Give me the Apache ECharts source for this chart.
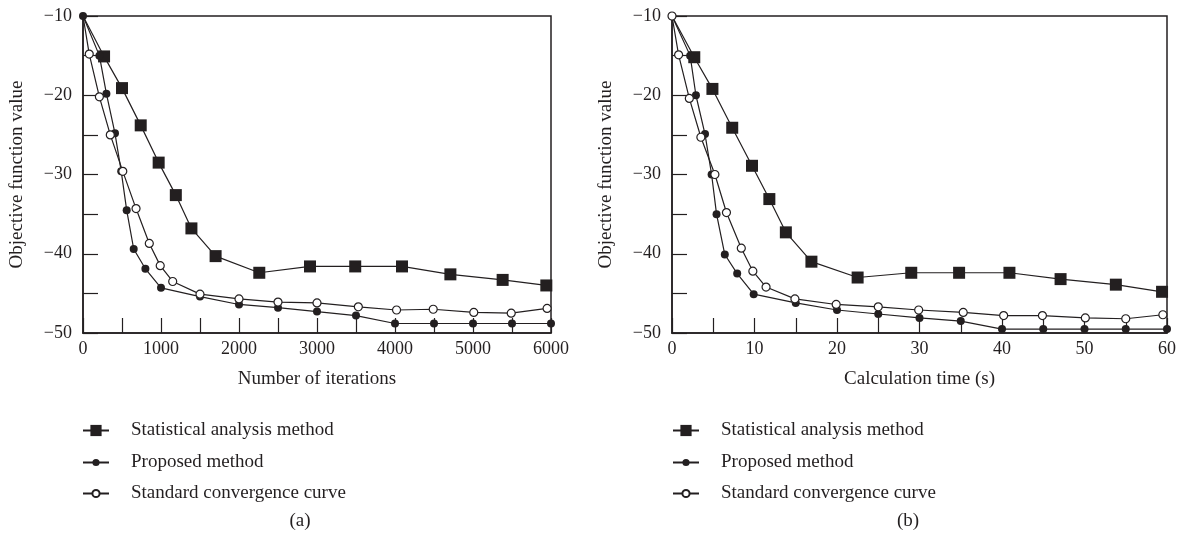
<!DOCTYPE html>
<html>
<head>
<meta charset="utf-8">
<script src="https://cdn.jsdelivr.net/npm/echarts@6/dist/echarts.min.js"></script>
<style>
  html, body { margin: 0; padding: 0; background: #fff; }
  #chart { width: 1184px; height: 539px; }
</style>
</head>
<body>
<div id="chart"></div>
<script>
  // (a) number of iterations
  const iterStatX = [0, 270, 500, 740, 970, 1190, 1390, 1700, 2260, 2910, 3490, 4090, 4710, 5380, 5940];
  const iterStatY = [-10, -15.1, -19.1, -23.8, -28.5, -32.6, -36.8, -40.3, -42.4, -41.6, -41.6, -41.6, -42.6, -43.3, -44.0];
  const iterPropX = [0, 210, 300, 410, 490, 560, 650, 800, 1000, 1500, 2000, 2500, 3000, 3500, 4000, 4500, 5000, 5500, 6000];
  const iterPropY = [-10, -15.0, -19.8, -24.8, -29.6, -34.5, -39.4, -41.9, -44.3, -45.4, -46.4, -46.8, -47.3, -47.8, -48.8, -48.8, -48.8, -48.8, -48.8];
  const iterStdX = [0, 80, 210, 350, 510, 680, 850, 990, 1150, 1500, 2000, 2500, 3000, 3530, 4020, 4490, 5010, 5490, 5950];
  const iterStdY = [-10, -14.8, -20.2, -25.0, -29.6, -34.3, -38.7, -41.5, -43.5, -45.1, -45.7, -46.1, -46.2, -46.7, -47.1, -47.0, -47.4, -47.5, -46.9];

  // (b) calculation time (s)
  const timeStatX = [0, 2.7, 4.9, 7.3, 9.7, 11.8, 13.8, 16.9, 22.5, 29, 34.8, 40.9, 47.1, 53.8, 59.4];
  const timeStatY = [-10, -15.2, -19.2, -24.1, -28.9, -33.1, -37.3, -41.0, -43.0, -42.4, -42.4, -42.4, -43.2, -43.9, -44.8];
  const timePropX = [0, 2.2, 2.9, 4.0, 4.8, 5.4, 6.4, 7.9, 9.9, 15, 20, 25, 30, 35, 40, 45, 50, 55, 60];
  const timePropY = [-10, -15.0, -20.0, -24.9, -30.0, -35.0, -40.1, -42.5, -45.1, -46.2, -47.1, -47.6, -48.1, -48.5, -49.5, -49.5, -49.5, -49.5, -49.5];
  const timeStdX = [0, 0.8, 2.1, 3.5, 5.2, 6.6, 8.4, 9.8, 11.4, 14.9, 19.9, 25, 29.9, 35.3, 40.2, 44.9, 50.1, 55, 59.5];
  const timeStdY = [-10, -14.9, -20.4, -25.3, -30.0, -34.8, -39.3, -42.2, -44.2, -45.7, -46.4, -46.7, -47.1, -47.4, -47.8, -47.8, -48.1, -48.2, -47.7];

  const seriesNames = ['Statistical analysis method', 'Proposed method', 'Standard convergence curve'];

  const ink = '#231f20';
  const font = '"Liberation Serif", "DejaVu Serif", serif';

  // x/y pairs, the shared start point (0,-10) gets no marker when asked
  function pairs(xs, ys, hideFirst) {
    return xs.map((x, i) => {
      if (i === 0 && hideFirst) return { value: [x, ys[i]], symbol: 'none' };
      return [x, ys[i]];
    });
  }

  function makeSeries(idx, stat, prop, std) {
    const base = {
      type: 'line',
      xAxisIndex: idx,
      yAxisIndex: idx,
      clip: false,
      animation: false,
      lineStyle: { color: ink, width: 1.2 }
    };
    return [
      Object.assign({}, base, {
        name: seriesNames[0],
        symbol: 'rect',
        symbolSize: 12,
        itemStyle: { color: ink },
        data: pairs(stat[0], stat[1], true)
      }),
      Object.assign({}, base, {
        name: seriesNames[1],
        symbol: 'circle',
        symbolSize: 8,
        itemStyle: { color: ink },
        data: pairs(prop[0], prop[1], false)
      }),
      Object.assign({}, base, {
        name: seriesNames[2],
        symbol: 'circle',
        symbolSize: 8,
        itemStyle: { color: '#fff', borderColor: ink, borderWidth: 1.2 },
        data: pairs(std[0], std[1], idx === 0)
      })
    ];
  }

  function xAxisOf(idx, max, step, labelStep, name) {
    return {
      type: 'value',
      gridIndex: idx,
      min: 0,
      max: max,
      interval: step,
      name: name,
      nameLocation: 'middle',
      nameGap: 37,
      nameTextStyle: { color: ink, fontFamily: font, fontSize: 19 },
      axisLine: { lineStyle: { color: ink, width: 1.5 } },
      axisTick: { inside: true, length: 15, lineStyle: { color: ink, width: 1.2 } },
      axisLabel: {
        color: ink, fontFamily: font, fontSize: 18, margin: 7,
        formatter: v => (v % labelStep === 0 ? String(v) : '')
      },
      splitLine: { show: false }
    };
  }

  function yAxisOf(idx) {
    return {
      type: 'value',
      gridIndex: idx,
      min: -50,
      max: -10,
      interval: 5,
      name: 'Objective function value',
      nameLocation: 'middle',
      nameGap: 56,
      nameTextStyle: { color: ink, fontFamily: font, fontSize: 19 },
      axisLine: { lineStyle: { color: ink, width: 1.5 } },
      axisTick: { inside: true, length: 15, lineStyle: { color: ink, width: 1.2 } },
      axisLabel: {
        color: ink, fontFamily: font, fontSize: 18, margin: 11,
        formatter: v => (v % 10 === 0 ? '\u2212' + Math.abs(v) : '')
      },
      splitLine: { show: false }
    };
  }

  // one legend per row so the square and the circles get their own icon size
  const legendRows = [416, 448, 479];
  const legendIconH = [14, 9, 9];

  function legendsOf(left) {
    return seriesNames.map((name, i) => ({
      left: left,
      top: legendRows[i],
      itemWidth: 26,
      itemHeight: legendIconH[i],
      data: [name],
      selectedMode: false,
      textStyle: { color: ink, fontFamily: font, fontSize: 19, padding: [0, 0, 0, 17] }
    }));
  }

  const chart = echarts.init(document.getElementById('chart'));
  const option = {
    animation: false,
    grid: [
      { left: 83, top: 16, width: 468, height: 317, show: true, borderColor: ink, borderWidth: 1.5 },
      { left: 672, top: 16, width: 495, height: 317, show: true, borderColor: ink, borderWidth: 1.5 }
    ],
    xAxis: [
      xAxisOf(0, 6000, 500, 1000, 'Number of iterations'),
      xAxisOf(1, 60, 5, 10, 'Calculation time (s)')
    ],
    yAxis: [yAxisOf(0), yAxisOf(1)],
    legend: legendsOf(77).concat(legendsOf(667)),
    graphic: [
      { type: 'text', x: 300, y: 521, style: { text: '(a)', fill: ink, font: '19px ' + font, textAlign: 'center', textVerticalAlign: 'middle' } },
      { type: 'text', x: 908, y: 521, style: { text: '(b)', fill: ink, font: '19px ' + font, textAlign: 'center', textVerticalAlign: 'middle' } }
    ],
    series: [].concat(
      makeSeries(0, [iterStatX, iterStatY], [iterPropX, iterPropY], [iterStdX, iterStdY]),
      makeSeries(1, [timeStatX, timeStatY], [timePropX, timePropY], [timeStdX, timeStdY])
    )
  };
  chart.setOption(option);
</script>
</body>
</html>
